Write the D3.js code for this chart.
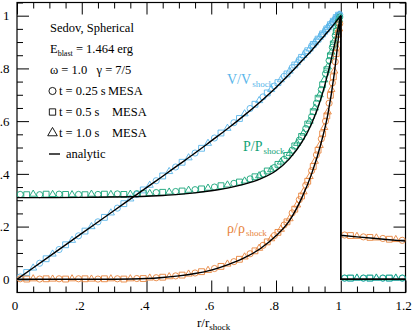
<!DOCTYPE html>
<html>
<head>
<meta charset="utf-8">
<script src="https://cdn.jsdelivr.net/npm/d3@7"></script>
<style>
  body { margin: 0; background: #fff; }
  svg { display: block; }
  svg text { font-family: "Liberation Serif", "DejaVu Serif", serif; white-space: pre; }
</style>
</head>
<body>
<script>
// analytic profiles (pre-shock)
const rA = [0, 0.1, 0.2, 0.3, 0.4, 0.45, 0.5, 0.55, 0.6, 0.65, 0.7, 0.75, 0.8, 0.84, 0.88, 0.91, 0.94, 0.96, 0.98, 1.0]
const vA = [0, 0.087, 0.174, 0.261, 0.348, 0.391, 0.435, 0.479, 0.525, 0.571, 0.62, 0.672, 0.728, 0.777, 0.829, 0.868, 0.911, 0.939, 0.969, 1.0]
const pA = [0.31, 0.31, 0.311, 0.312, 0.315, 0.318, 0.322, 0.328, 0.336, 0.346, 0.36, 0.38, 0.412, 0.455, 0.52, 0.59, 0.69, 0.78, 0.885, 1.0]
const dA = [0, 0, 0, 0.0005, 0.003, 0.007, 0.013, 0.022, 0.035, 0.055, 0.08, 0.115, 0.165, 0.22, 0.31, 0.40, 0.52, 0.625, 0.78, 1.0]
// analytic, outside the shock
const rPost = [1.0, 1.05, 1.1, 1.15, 1.2]
const vPost = [0, 0, 0, 0, 0]
const pPost = [0, 0, 0, 0, 0]
const dPost = [0.167, 0.161, 0.156, 0.150, 0.145]

// MESA, t = 0.25 s (circles)
const rCirc = [0.01, 0.07, 0.13, 0.19, 0.25, 0.31, 0.37, 0.43, 0.49, 0.55, 0.61, 0.67, 0.72, 0.76, 0.795, 0.825, 0.85, 0.872, 0.892, 0.91, 0.925, 0.94, 0.953, 0.964, 0.974, 0.983, 0.991, 0.997, 1.012, 1.07, 1.13, 1.19]
const vCirc = [0.009, 0.061, 0.113, 0.165, 0.218, 0.27, 0.322, 0.374, 0.426, 0.479, 0.536, 0.594, 0.648, 0.692, 0.733, 0.77, 0.803, 0.833, 0.86, 0.885, 0.905, 0.926, 0.945, 0.96, 0.975, 0.988, 0.998, 1.004, 0.004, 0.004, 0.004, 0.004]
const pCirc = [0.322, 0.321, 0.323, 0.322, 0.322, 0.324, 0.325, 0.329, 0.333, 0.34, 0.35, 0.364, 0.381, 0.4, 0.424, 0.455, 0.49, 0.528, 0.572, 0.617, 0.668, 0.72, 0.78, 0.83, 0.88, 0.925, 0.965, 0.995, 0.005, 0.005, 0.005, 0.005]
const dCirc = [0.002, 0.001, 0.002, 0.002, 0.001, 0.002, 0.003, 0.006, 0.013, 0.024, 0.041, 0.067, 0.097, 0.129, 0.166, 0.206, 0.252, 0.302, 0.357, 0.412, 0.472, 0.533, 0.6, 0.668, 0.745, 0.825, 0.91, 0.97, 0.168, 0.161, 0.155, 0.148]

// MESA, t = 0.5 s (squares)
const rSq = [0.03, 0.09, 0.15, 0.21, 0.27, 0.33, 0.39, 0.45, 0.51, 0.57, 0.63, 0.687, 0.735, 0.773, 0.806, 0.834, 0.858, 0.879, 0.898, 0.915, 0.93, 0.944, 0.957, 0.968, 0.977, 0.986, 0.993, 1.03, 1.09, 1.15]
const vSq = [0.026, 0.078, 0.131, 0.183, 0.235, 0.287, 0.339, 0.392, 0.444, 0.497, 0.555, 0.61, 0.664, 0.707, 0.746, 0.779, 0.813, 0.842, 0.867, 0.891, 0.911, 0.931, 0.95, 0.966, 0.979, 0.993, 1.002, 0.004, 0.004, 0.004]
const pSq = [0.321, 0.323, 0.322, 0.321, 0.323, 0.322, 0.325, 0.33, 0.335, 0.343, 0.355, 0.369, 0.389, 0.411, 0.436, 0.47, 0.506, 0.542, 0.589, 0.636, 0.687, 0.738, 0.795, 0.848, 0.893, 0.94, 0.975, 0.005, 0.005, 0.005]
const dSq = [0.001, 0.002, 0.001, 0.002, 0.002, 0.001, 0.003, 0.008, 0.016, 0.029, 0.049, 0.076, 0.108, 0.142, 0.178, 0.218, 0.266, 0.316, 0.372, 0.428, 0.49, 0.552, 0.62, 0.698, 0.768, 0.856, 0.93, 0.166, 0.159, 0.152]

// MESA, t = 1.0 s (triangles)
const rTri = [0.05, 0.11, 0.17, 0.23, 0.29, 0.35, 0.41, 0.47, 0.53, 0.59, 0.65, 0.703, 0.748, 0.785, 0.815, 0.842, 0.865, 0.885, 0.904, 0.92, 0.935, 0.949, 0.96, 0.971, 0.98, 0.988, 0.995, 1.05, 1.11, 1.17]
const vTri = [0.043, 0.096, 0.148, 0.2, 0.252, 0.305, 0.357, 0.409, 0.461, 0.516, 0.573, 0.628, 0.678, 0.72, 0.757, 0.79, 0.822, 0.849, 0.874, 0.897, 0.918, 0.938, 0.955, 0.971, 0.983, 0.995, 1.003, 0.004, 0.004, 0.004]
const pTri = [0.323, 0.322, 0.321, 0.323, 0.322, 0.323, 0.326, 0.331, 0.338, 0.346, 0.358, 0.373, 0.393, 0.416, 0.445, 0.478, 0.516, 0.555, 0.6, 0.65, 0.7, 0.757, 0.806, 0.862, 0.905, 0.95, 0.985, 0.005, 0.005, 0.005]
const dTri = [0.002, 0.001, 0.002, 0.001, 0.002, 0.002, 0.005, 0.01, 0.02, 0.034, 0.058, 0.085, 0.118, 0.154, 0.19, 0.23, 0.282, 0.332, 0.39, 0.448, 0.508, 0.576, 0.635, 0.72, 0.79, 0.878, 0.95, 0.163, 0.157, 0.151]

const xTicks = [0, 0.2, 0.4, 0.6, 0.8, 1.0, 1.2]
const xTickLabels = ["0", ".2", ".4", ".6", ".8", "1", "1.2"]
const yTicks = [0, 0.2, 0.4, 0.6, 0.8, 1.0]
const yTickLabels = ["0", ".2", ".4", ".6", ".8", "1"]

const blue = "#5ab6ea", green = "#14a478", orange = "#e8853d"

const W = 415, H = 334
const pLeft = 17, pRight = 405.5, pTop = 2.5, pBottom = 292.5

const svg = d3.select("body").append("svg")
  .attr("width", W)
  .attr("height", H)

const x = d3.scaleLinear().domain([0, 1.2]).range([pLeft, pRight])
const y = d3.scaleLinear().domain([-0.05, 1.05]).range([pBottom, pTop])

const xMinor = d3.range(0, 1.2001, 0.05).filter(v => xTicks.every(t => Math.abs(t - v) > 1e-6))
const yMinor = d3.range(0, 1.0501, 0.05).filter(v => yTicks.every(t => Math.abs(t - v) > 1e-6))

// axes, ticks pointing inward on all four sides
const fmtX = d => xTickLabels[xTicks.findIndex(t => Math.abs(t - d) < 1e-6)]
const fmtY = d => yTickLabels[yTicks.findIndex(t => Math.abs(t - d) < 1e-6)]

function addAxis(axis, tr) {
  const g = svg.append("g").attr("transform", tr).call(axis)
    .attr("font-family", null).attr("font-size", 13)
  g.select(".domain").remove()
  g.selectAll("line").attr("stroke", "#000")
  g.selectAll("text").attr("fill", "#000")
  return g
}

const gx = addAxis(d3.axisBottom(x).tickValues(xTicks).tickSize(-12).tickPadding(8).tickFormat(fmtX), `translate(0,${pBottom})`)
gx.selectAll("text").attr("dx", -2.5)
addAxis(d3.axisBottom(x).tickValues(xMinor).tickSize(-6).tickFormat(""), `translate(0,${pBottom})`)
addAxis(d3.axisTop(x).tickValues(xTicks).tickSize(-12).tickFormat(""), `translate(0,${pTop})`)
addAxis(d3.axisTop(x).tickValues(xMinor).tickSize(-6).tickFormat(""), `translate(0,${pTop})`)

addAxis(d3.axisLeft(y).tickValues(yTicks).tickSize(-12).tickPadding(7.5).tickFormat(fmtY), `translate(${pLeft},0)`)
addAxis(d3.axisLeft(y).tickValues(yMinor).tickSize(-6).tickFormat(""), `translate(${pLeft},0)`)
addAxis(d3.axisRight(y).tickValues(yTicks).tickSize(-12).tickFormat(""), `translate(${pRight},0)`)
addAxis(d3.axisRight(y).tickValues(yMinor).tickSize(-6).tickFormat(""), `translate(${pRight},0)`)

svg.append("rect")
  .attr("x", pLeft).attr("y", pTop)
  .attr("width", pRight - pLeft).attr("height", pBottom - pTop)
  .attr("fill", "none").attr("stroke", "#000").attr("stroke-width", 1.2)

// MESA markers
const symCircle = d3.symbol().type(d3.symbolCircle).size(30)
const symSquare = d3.symbol().type(d3.symbolSquare).size(34)
const symTri = d3.symbol().type(d3.symbolTriangle).size(22)

const markerSets = [
  { r: rCirc, vals: [vCirc, pCirc, dCirc], sym: symCircle },
  { r: rSq, vals: [vSq, pSq, dSq], sym: symSquare },
  { r: rTri, vals: [vTri, pTri, dTri], sym: symTri }
]
const colors = [blue, green, orange]

colors.forEach((col, k) => {
  markerSets.forEach(set => {
    svg.append("g")
      .selectAll("path")
      .data(d3.zip(set.r, set.vals[k]))
      .join("path")
      .attr("transform", d => `translate(${x(d[0])},${y(d[1])})`)
      .attr("d", set.sym)
      .attr("fill", "none")
      .attr("stroke", col)
      .attr("stroke-width", 0.9)
  })
})

// analytic lines
const smooth = d3.line().x(d => x(d[0])).y(d => y(d[1])).curve(d3.curveMonotoneX)
const straight = d3.line().x(d => x(d[0])).y(d => y(d[1]))

const profiles = [[vA, vPost], [pA, pPost], [dA, dPost]]
profiles.forEach(([pre, post]) => {
  svg.append("path")
    .attr("d", smooth(d3.zip(rA, pre)))
    .attr("fill", "none").attr("stroke", "#000").attr("stroke-width", 1.4)
  svg.append("path")
    .attr("d", straight([[rA[rA.length - 1], pre[pre.length - 1]]].concat(d3.zip(rPost, post))))
    .attr("fill", "none").attr("stroke", "#000").attr("stroke-width", 1.4)
})

// curve labels
function curveLabel(xp, yp, main, col) {
  const t = svg.append("text").attr("x", xp).attr("y", yp).attr("fill", col).attr("font-size", 14)
  t.append("tspan").text(main)
  t.append("tspan").attr("font-size", 9).attr("dy", 3).attr("dx", 1).text("shock")
}
curveLabel(227, 84, "V/V", blue)
curveLabel(243, 151, "P/P", green)
curveLabel(227, 233, "ρ/ρ", orange)

// legend
const lg = svg.append("g").attr("font-size", 12.5).attr("fill", "#000")
lg.append("text").attr("x", 50).attr("y", 32).text("Sedov, Spherical")
const e = lg.append("text").attr("x", 50).attr("y", 53)
e.append("tspan").text("E")
e.append("tspan").attr("font-size", 8).attr("dy", 2.5).text("blast")
e.append("tspan").attr("dy", -2.5).text(" = 1.464 erg")
lg.append("text").attr("x", 50).attr("y", 74).text("ω = 1.0   γ = 7/5")

const legendRows = [
  { sym: symCircle, t: "t = 0.25 s", mx: 108, y: 95 },
  { sym: symSquare, t: "t = 0.5 s", mx: 112, y: 116 },
  { sym: symTri, t: "t = 1.0 s", mx: 112, y: 137 }
]
legendRows.forEach(row => {
  lg.append("path")
    .attr("transform", `translate(52.5,${row.y - 4})`)
    .attr("d", d3.symbol().type(row.sym.type()).size(40)())
    .attr("fill", "none").attr("stroke", "#000").attr("stroke-width", 0.9)
  lg.append("text").attr("x", 59).attr("y", row.y).text(row.t)
  lg.append("text").attr("x", row.mx).attr("y", row.y).text("MESA")
})
lg.append("line").attr("x1", 49).attr("x2", 60).attr("y1", 154).attr("y2", 154)
  .attr("stroke", "#000").attr("stroke-width", 1.4)
lg.append("text").attr("x", 66).attr("y", 158).text("analytic")

// x axis title
const xt = svg.append("text").attr("x", 197).attr("y", 327).attr("font-size", 13).attr("fill", "#000")
xt.append("tspan").text("r/r")
xt.append("tspan").attr("font-size", 9).attr("dy", 3).text("shock")
</script>
</body>
</html>
